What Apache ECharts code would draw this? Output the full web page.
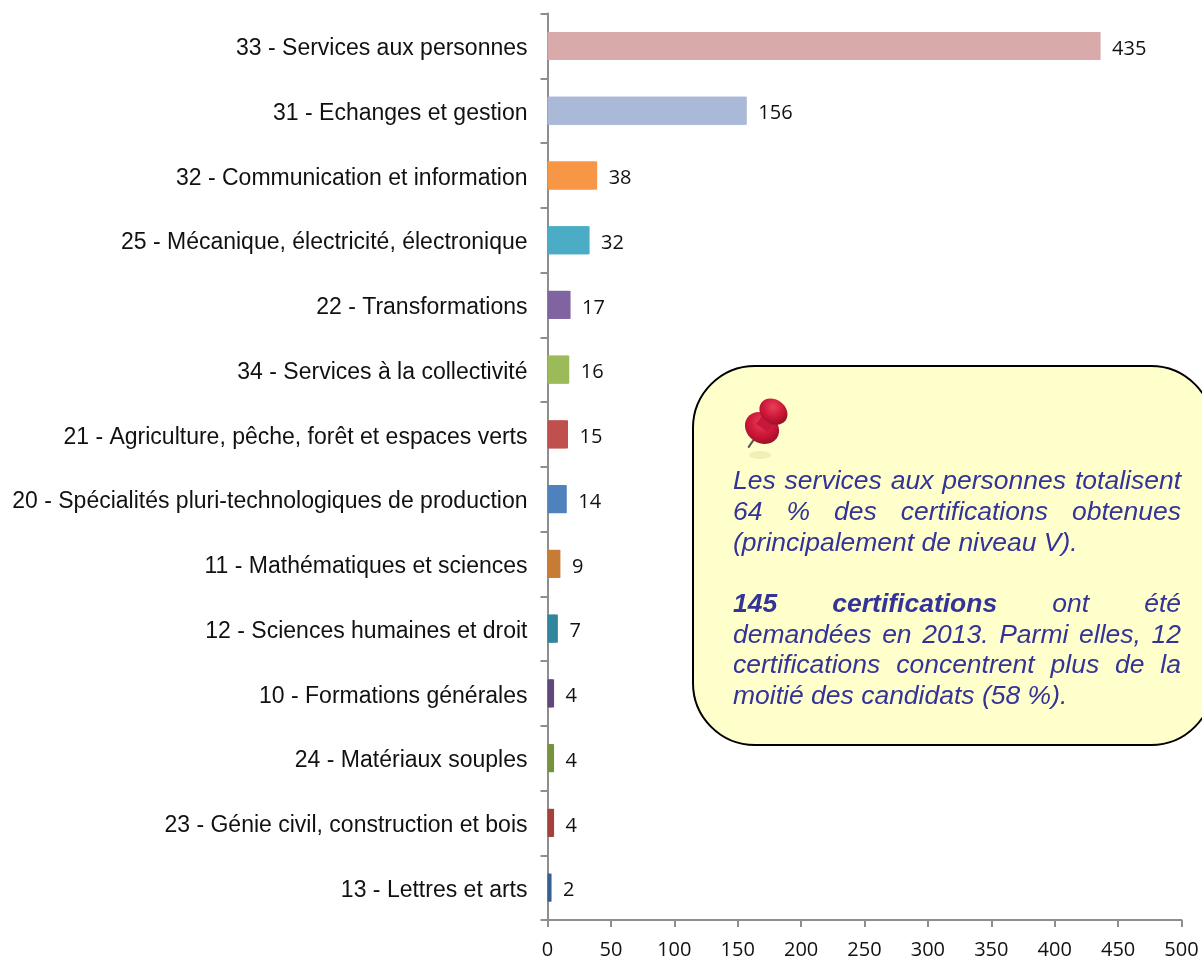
<!DOCTYPE html>
<html>
<head>
<meta charset="utf-8">
<title>Certifications par spécialité</title>
<style>
  html, body { margin: 0; padding: 0; background: #fff; }
  #chart { width: 1202px; height: 960px; }
</style>
<script src="https://cdn.jsdelivr.net/npm/echarts@6/dist/echarts.min.js"></script>
</head>
<body>
<div id="chart"></div>
<script>
const categories = [
  '33 - Services aux personnes',
  '31 - Echanges et gestion',
  '32 - Communication et information',
  '25 - Mécanique, électricité, électronique',
  '22 - Transformations',
  '34 - Services à la collectivité',
  '21 - Agriculture, pêche, forêt et espaces verts',
  '20 - Spécialités pluri-technologiques de production',
  '11 - Mathématiques et sciences',
  '12 - Sciences humaines et droit',
  '10 - Formations générales',
  '24 - Matériaux souples',
  '23 - Génie civil, construction et bois',
  '13 - Lettres et arts'
]
const values = [435, 156, 38, 32, 17, 16, 15, 14, 9, 7, 4, 4, 4, 2]
const barColors = [
  '#D9AAAA', '#AAB9D8', '#F79646', '#4BACC6', '#8064A2', '#9BBB59', '#C0504D',
  '#4F81BD', '#C77C36', '#31859C', '#5F497A', '#76923C', '#A5403D', '#366092'
]
const noteLines = [
  { y: 481.5, justify: true, parts: [['Les services aux personnes totalisent', false]] },
  { y: 512.5, justify: true, parts: [['64 % des certifications obtenues', false]] },
  { y: 543.5, justify: false, parts: [['(principalement de niveau V).', false]] },
  { y: 604.5, justify: true, parts: [['145 certifications', true], ['ont été', false]] },
  { y: 635.5, justify: true, parts: [['demandées en 2013. Parmi elles, 12', false]] },
  { y: 665.5, justify: true, parts: [['certifications concentrent plus de la', false]] },
  { y: 696.5, justify: false, parts: [['moitié des candidats (58 %).', false]] }
]

const noteLeft = 733
const noteRight = 1181
const noteFontSize = 26.5
const noteColor = '#333399'
const ctx = document.createElement('canvas').getContext('2d')

function noteFont(bold) {
  return 'italic ' + (bold ? 'bold ' : '') + noteFontSize + 'px "Liberation Sans"'
}

// le texte de l'encadré est justifié : on place chaque mot
function noteWords() {
  const out = []
  noteLines.forEach(line => {
    const words = []
    line.parts.forEach(p => {
      p[0].split(' ').forEach(w => {
        ctx.font = noteFont(p[1])
        words.push({ text: w, bold: p[1], width: ctx.measureText(w).width })
      })
    })
    const total = words.reduce((s, w) => s + w.width, 0)
    const gap = line.justify
      ? (noteRight - noteLeft - total) / (words.length - 1)
      : noteFontSize * 0.278
    let x = noteLeft
    words.forEach(w => {
      out.push({
        type: 'text',
        z: 12,
        style: {
          x,
          y: line.y,
          text: w.text,
          font: noteFont(w.bold),
          fill: noteColor,
          textVerticalAlign: 'middle'
        }
      })
      x += w.width + gap
    })
  })
  return out
}

function pin() {
  const red = new echarts.graphic.RadialGradient(0.4, 0.35, 0.75, [
    { offset: 0, color: '#E8405A' },
    { offset: 0.6, color: '#CC1637' },
    { offset: 1, color: '#9A1029' }
  ])
  return [
    { type: 'ellipse', z: 11, shape: { cx: 760, cy: 455, rx: 11, ry: 4 }, style: { fill: '#EFEFB8' } },
    {
      type: 'group',
      x: 762,
      y: 428,
      rotation: -Math.PI / 180 * 35,
      children: [
        { type: 'line', z: 12, shape: { x1: 0, y1: 10, x2: 0, y2: 24 }, style: { stroke: '#555', lineWidth: 2 } },
        { type: 'ellipse', z: 12, shape: { cx: 0, cy: 0, rx: 18, ry: 15 }, style: { fill: red } },
        { type: 'rect', z: 12, shape: { x: -7, y: -20, width: 14, height: 20 }, style: { fill: '#C91739' } },
        { type: 'ellipse', z: 12, shape: { cx: 0, cy: -20, rx: 15, ry: 12 }, style: { fill: red } }
      ]
    }
  ]
}

const chart = echarts.init(document.getElementById('chart'), null, { renderer: 'canvas' })
chart.setOption({
  animation: false,
  backgroundColor: '#fff',
  grid: { left: 547.5, top: 13.5, width: 634, height: 906.5, containLabel: false },
  xAxis: {
    type: 'value',
    min: 0,
    max: 500,
    interval: 50,
    splitLine: { show: false },
    axisLine: { show: true, lineStyle: { color: '#8E8E8E', width: 2 } },
    axisTick: { show: true, length: 7, lineStyle: { color: '#8E8E8E', width: 2 } },
    axisLabel: {
      margin: 20,
      fontFamily: 'Open Sans',
      fontSize: 20,
      color: '#111',
      showMinLabel: true,
      showMaxLabel: true
    }
  },
  yAxis: {
    type: 'category',
    inverse: true,
    data: categories,
    axisLine: { show: true, lineStyle: { color: '#8E8E8E', width: 2 } },
    axisTick: { show: true, length: 7, lineStyle: { color: '#8E8E8E', width: 2 } },
    axisLabel: {
      margin: 20,
      interval: 0,
      formatter: '{a|{value}}',
      rich: {
        a: {
          padding: [6, 0, 0, 0],
          fontFamily: 'Liberation Sans',
          fontSize: 23,
          color: '#111'
        }
      }
    }
  },
  series: [{
    type: 'bar',
    barWidth: 28,
    data: values.map((v, i) => ({
      value: v,
      itemStyle: { color: barColors[i], shadowColor: barColors[i], shadowOffsetX: 1.5, shadowBlur: 0 }
    })),
    label: {
      show: true,
      position: 'right',
      distance: 13,
      offset: [0, 3],
      fontFamily: 'Open Sans',
      fontSize: 20,
      color: '#111'
    }
  }],
  graphic: [
    {
      type: 'rect',
      z: 10,
      shape: { x: 693, y: 366, width: 520, height: 379, r: 62 },
      style: { fill: '#FFFFCC', stroke: '#000', lineWidth: 2 }
    }
  ].concat(pin(), noteWords())
})
</script>
</body>
</html>
